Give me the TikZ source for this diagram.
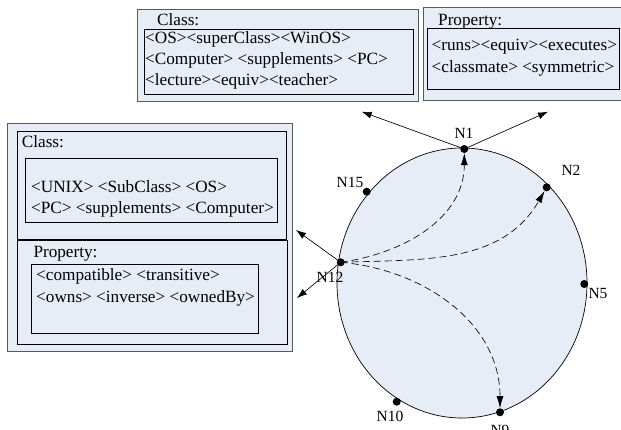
\documentclass[tikz,border=0pt]{standalone}
\usepackage{fontspec}
\setmainfont{Liberation Serif}
\usetikzlibrary{arrows.meta,shapes.geometric}
\definecolor{boxfill}{RGB}{230,237,247}
\definecolor{outerline}{RGB}{90,90,90}
\tikzset{
  outerbox/.style={draw=outerline, fill=boxfill, line width=0.9pt, anchor=north west, inner sep=0pt},
  innerbox/.style={draw=black, fill=boxfill, line width=0.7pt, anchor=north west, inner sep=0pt},
  txt/.style={anchor=west, inner sep=0pt, font=\fontsize{17.2}{20}\selectfont, text height=12pt, text depth=4pt},
  lbl/.style={inner sep=0pt, font=\fontsize{15.5}{18}\selectfont},
  dot/.style={circle, fill=black, inner sep=0pt, minimum size=8pt},
  solidarrow/.style={-{Latex[length=10pt,width=7pt]}, line width=0.65pt},
  dasharrow/.style={-{Latex[length=12pt,width=7pt]}, dash pattern=on 7pt off 4pt, line width=0.65pt},
}
\begin{document}
\begin{tikzpicture}[x=1pt,y=-1pt]
\useasboundingbox (0,0) rectangle (621,430);

% ring
\node[draw=black, fill=boxfill, ellipse, line width=0.7pt, minimum width=250pt, minimum height=270pt, inner sep=0pt] (ring) at (462,283) {};

% top class box
\node[outerbox, minimum width=281pt, minimum height=92pt] (tcb) at (137,9) {};
\node[innerbox, minimum width=269.5pt, minimum height=65pt] (tci) at (143.5,29) {};
\node[txt] (tct) at (157,22) {Class:};
\node[txt] (tc1) at (145,39.5) {<OS><superClass><WinOS>};
\node[txt] (tc2) at (145,60.5) {<Computer> <supplements> <PC>};
\node[txt] (tc3) at (145,81.5) {<lecture><equiv><teacher>};

% top property box
\node[outerbox, minimum width=200pt, minimum height=92.5pt] (tpb) at (423,7.5) {};
\node[innerbox, minimum width=192pt, minimum height=61pt] (tpi) at (427,28.5) {};
\node[txt] (tpt) at (438,22) {Property:};
\node[txt] (tp1) at (431.5,46.5) {<runs><equiv><executes>};
\node[txt] (tp2) at (431.5,68.5) {<classmate> <symmetric>};

% left box
\node[outerbox, minimum width=285pt, minimum height=228pt] (lb) at (6.7,122.7) {};
\node[innerbox, minimum width=269.5pt, minimum height=108.6pt] (lcb) at (16.7,130.7) {};
\node[innerbox, minimum width=251.7pt, minimum height=64pt] (lci) at (25,157.7) {};
\node[txt] (lct) at (21.7,143.3) {Class:};
\node[txt] (lc1) at (31,188.3) {<UNIX> <SubClass> <OS>};
\node[txt] (lc2) at (31,210) {<PC> <supplements> <Computer>};
\node[innerbox, minimum width=270pt, minimum height=103.5pt] (lpb) at (16.7,240.5) {};
\node[innerbox, minimum width=227.3pt, minimum height=68.7pt] (lpi) at (31,264.3) {};
\node[txt] (lpt) at (33.3,253.3) {Property:};
\node[txt] (lp1) at (36,276.7) {<compatible> <transitive>};
\node[txt] (lp2) at (36,298) {<owns> <inverse> <ownedBy>};

% peers
\node[dot] (n1) at (464.3,149) {};
\node[dot] (n2) at (546.7,187.3) {};
\node[dot] (n15) at (366.7,191.7) {};
\node[dot] (n12) at (340.7,262.3) {};
\node[dot] (n5) at (584.3,284) {};
\node[dot] (n10) at (396.7,401.7) {};
\node[dot] (n9) at (500,412.3) {};

\node[lbl] (l1) at (464,133) {N1};
\node[lbl] (l2) at (571,170) {N2};
\node[lbl] (l15) at (350,182) {N15};
\node[lbl] (l12) at (330,277) {N12};
\node[lbl] (l5) at (598,294) {N5};
\node[lbl] (l10) at (390,416) {N10};
\node[lbl] (l9) at (500,430) {N9};

% solid arrows
\coordinate (a1) at (361.7,111.7);
\coordinate (a2) at (548,111.7);
\coordinate (a3) at (296,230);
\coordinate (a4) at (297,298);
\draw[solidarrow] (n1.center) -- (a1);
\draw[solidarrow] (n1.center) -- (a2);
\draw[solidarrow] (n12.center) -- (a3);
\draw[solidarrow] (n12.center) -- (a4);

% dashed routing arrows
\draw[dasharrow] (n12.center) to[out=8,in=-90] (n1);
\draw[dasharrow] (n12.center) to[out=2,in=-120] (n2);
\draw[dasharrow] (n12.center) to[out=-5,in=90] (n9);
\end{tikzpicture}
\end{document}
